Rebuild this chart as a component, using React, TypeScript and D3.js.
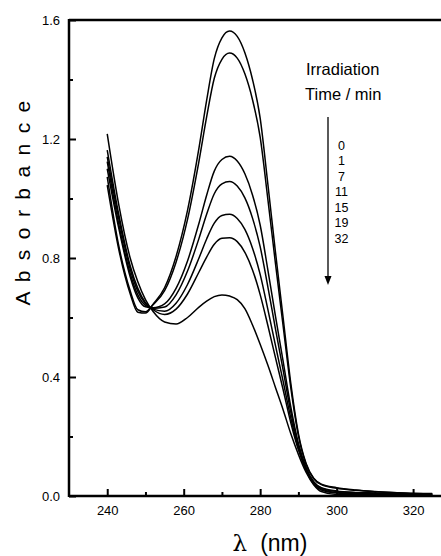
import React, { useEffect, useRef } from 'react';
import * as d3 from 'd3';

// wavelengths (nm) where the spectra were read
const wavelengths = [240, 243, 246, 248, 250, 252, 255, 258, 261, 264, 266, 268, 270, 272, 274, 276, 278, 280, 282, 284, 286, 288, 290, 292, 294, 296, 300, 305, 310, 318, 325];

// absorbance per irradiation time
const abs0 = [1.045, 0.83, 0.68, 0.618, 0.615, 0.645, 0.70, 0.805, 0.96, 1.17, 1.33, 1.47, 1.54, 1.563, 1.545, 1.49, 1.40, 1.27, 1.05, 0.82, 0.60, 0.38, 0.21, 0.11, 0.06, 0.04, 0.028, 0.02, 0.015, 0.01, 0.008];
const abs1 = [1.073, 0.842, 0.69, 0.626, 0.619, 0.643, 0.69, 0.786, 0.93, 1.126, 1.274, 1.404, 1.468, 1.489, 1.472, 1.419, 1.332, 1.206, 0.999, 0.782, 0.573, 0.365, 0.203, 0.107, 0.058, 0.038, 0.026, 0.019, 0.014, 0.0095, 0.0077];
const abs7 = [1.10, 0.901, 0.737, 0.666, 0.636, 0.633, 0.646, 0.698, 0.79, 0.917, 1.011, 1.092, 1.131, 1.142, 1.126, 1.083, 1.012, 0.911, 0.761, 0.605, 0.453, 0.30, 0.177, 0.096, 0.048, 0.028, 0.017, 0.012, 0.010, 0.007, 0.006];
const abs11 = [1.124, 0.915, 0.748, 0.676, 0.641, 0.631, 0.635, 0.676, 0.756, 0.866, 0.947, 1.016, 1.049, 1.057, 1.042, 1.002, 0.934, 0.838, 0.704, 0.562, 0.424, 0.283, 0.17, 0.093, 0.046, 0.026, 0.015, 0.011, 0.009, 0.0066, 0.0057];
const abs15 = [1.14, 0.934, 0.763, 0.688, 0.646, 0.628, 0.621, 0.648, 0.711, 0.80, 0.864, 0.917, 0.943, 0.947, 0.933, 0.896, 0.833, 0.745, 0.628, 0.506, 0.386, 0.263, 0.162, 0.089, 0.043, 0.023, 0.012, 0.009, 0.0074, 0.0058, 0.0052];
const abs19 = [1.163, 0.947, 0.774, 0.698, 0.65, 0.626, 0.61, 0.628, 0.679, 0.753, 0.803, 0.846, 0.866, 0.868, 0.855, 0.819, 0.76, 0.677, 0.574, 0.465, 0.358, 0.247, 0.155, 0.087, 0.04, 0.02, 0.01, 0.0075, 0.0066, 0.0053, 0.0049];
const abs32 = [1.217, 0.98, 0.80, 0.72, 0.66, 0.62, 0.585, 0.578, 0.60, 0.635, 0.655, 0.67, 0.676, 0.672, 0.66, 0.63, 0.575, 0.51, 0.44, 0.365, 0.29, 0.21, 0.14, 0.08, 0.038, 0.015, 0.005, 0.004, 0.004, 0.004, 0.004];

const times = ['0', '1', '7', '11', '15', '19', '32'];
const series = [abs0, abs1, abs7, abs11, abs15, abs19, abs32];

const xMajor = [240, 260, 280, 300, 320];
const xMinor = [250, 270, 290, 310];
const yMajor = [0.0, 0.4, 0.8, 1.2, 1.6];
const yMinor = [0.2, 0.6, 1.0, 1.4];

const FONT = '"Liberation Sans", Arial, Helvetica, sans-serif';

const App = () => {
  const ref = useRef<SVGSVGElement>(null);

  useEffect(() => {
    const svg = d3.select(ref.current);
    svg.selectAll('*').remove();

    const left = 69;
    const right = 441;
    const top = 20;
    const bottom = 496;

    const xScale = d3.scaleLinear().domain([230, 327.3]).range([left, right]);
    const yScale = d3.scaleLinear().domain([0, 1.6]).range([bottom, top]);

    // y axis, ticks pointing in
    const yAxis = svg.append('g').attr('transform', `translate(${left},0)`);
    yAxis
      .call(d3.axisLeft(yScale).tickValues(yMajor).tickSize(-7).tickPadding(9).tickFormat(d3.format('.1f')))
      .call((g) => g.select('.domain').remove());
    yAxis.selectAll('line').attr('stroke', '#000').attr('stroke-width', 2);
    yAxis.selectAll('text').attr('font-family', FONT).attr('font-size', 13).attr('fill', '#000');

    const yAxisMinor = svg.append('g').attr('transform', `translate(${left},0)`);
    yAxisMinor
      .call(d3.axisLeft(yScale).tickValues(yMinor).tickSize(-4).tickFormat(() => ''))
      .call((g) => g.select('.domain').remove());
    yAxisMinor.selectAll('line').attr('stroke', '#000').attr('stroke-width', 2);

    // x axis
    const xAxis = svg.append('g').attr('transform', `translate(0,${bottom})`);
    xAxis
      .call(d3.axisBottom(xScale).tickValues(xMajor).tickSize(-7).tickPadding(10).tickFormat(d3.format('d')))
      .call((g) => g.select('.domain').remove());
    xAxis.selectAll('line').attr('stroke', '#000').attr('stroke-width', 2);
    xAxis.selectAll('text').attr('font-family', FONT).attr('font-size', 13).attr('fill', '#000');

    const xAxisMinor = svg.append('g').attr('transform', `translate(0,${bottom})`);
    xAxisMinor
      .call(d3.axisBottom(xScale).tickValues(xMinor).tickSize(-4).tickFormat(() => ''))
      .call((g) => g.select('.domain').remove());
    xAxisMinor.selectAll('line').attr('stroke', '#000').attr('stroke-width', 2);

    // frame lines (left, bottom, top)
    const frame = svg.append('g').attr('stroke', '#000').attr('stroke-width', 2.5).attr('fill', 'none');
    frame.append('line').attr('x1', left).attr('x2', left).attr('y1', top - 1).attr('y2', bottom + 1);
    frame.append('line').attr('x1', left).attr('x2', right).attr('y1', bottom).attr('y2', bottom);
    frame.append('line').attr('x1', left).attr('x2', right).attr('y1', top).attr('y2', top);

    // spectra
    const line = d3
      .line<number>()
      .x((_, i) => xScale(wavelengths[i]))
      .y((a) => yScale(a))
      .curve(d3.curveMonotoneX);

    svg
      .append('g')
      .selectAll('path')
      .data(series)
      .enter()
      .append('path')
      .attr('d', (d) => line(d))
      .attr('fill', 'none')
      .attr('stroke', '#000')
      .attr('stroke-width', 1.5);

    // legend
    const legend = svg.append('g').attr('font-family', FONT).attr('fill', '#000');
    legend.append('text').attr('x', 306).attr('y', 75).attr('font-size', 16.5).text('Irradiation');
    legend.append('text').attr('x', 305).attr('y', 100).attr('font-size', 16.5).text('Time / min');

    legend
      .append('line')
      .attr('x1', 328)
      .attr('x2', 328)
      .attr('y1', 117)
      .attr('y2', 278)
      .attr('stroke', '#000')
      .attr('stroke-width', 1.3);
    legend
      .append('path')
      .attr('d', 'M324.5,276 L331.5,276 L328,285 Z')
      .attr('fill', '#000');

    legend
      .selectAll('text.time')
      .data(times)
      .enter()
      .append('text')
      .attr('class', 'time')
      .attr('x', 341.5)
      .attr('y', (_, i) => 149.5 + i * 15.55)
      .attr('text-anchor', 'middle')
      .attr('font-size', 12.5)
      .text((t) => t);

    // axis titles
    svg
      .append('text')
      .attr('transform', 'translate(30,202) rotate(-90)')
      .attr('text-anchor', 'middle')
      .attr('font-family', FONT)
      .attr('font-size', 21)
      .attr('letter-spacing', 2.3)
      .attr('fill', '#000')
      .text('A b s o r b a n c e');

    const xTitle = svg
      .append('text')
      .attr('x', 270)
      .attr('y', 551)
      .attr('text-anchor', 'middle')
      .attr('font-family', FONT)
      .attr('font-size', 23)
      .attr('fill', '#000');
    xTitle.append('tspan').attr('font-family', '"DejaVu Serif", "Liberation Serif", serif').text('λ');
    xTitle.append('tspan').attr('dx', 13).text('(nm)');
  }, []);

  return (
    <svg
      ref={ref}
      width={441}
      height={556}
      style={{ position: 'absolute', left: 0, top: 0, background: '#fff' }}
    />
  );
};

export default App;
